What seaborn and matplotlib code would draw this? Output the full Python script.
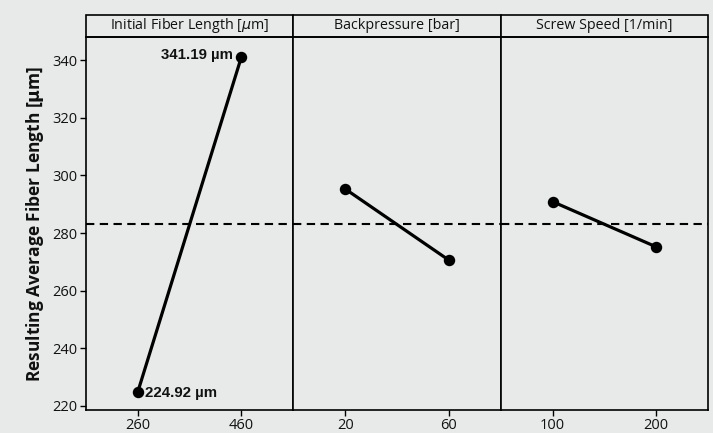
"""Main effects plot: resulting average fiber length per factor level."""

import matplotlib
matplotlib.use("Agg")
import matplotlib.pyplot as plt
from matplotlib.patches import Rectangle
import seaborn as sns

# data
factors = ["Initial Fiber Length [$\\mu$m]", "Backpressure [bar]", "Screw Speed [1/min]"]
levels = [["260", "460"], ["20", "60"], ["100", "200"]]
means = [[224.92, 341.19], [295.3, 270.6], [290.9, 275.2]]
grand_mean = 283.05
yticks = [220, 240, 260, 280, 300, 320, 340]

BG = "#e8eaea"
INK = "#111111"

sns.set_theme(style="white")
plt.rcParams["font.family"] = ["Open Sans", "DejaVu Sans"]
plt.rcParams["mathtext.fontset"] = "dejavusans"

fig, axes = plt.subplots(1, 3, figsize=(7.13, 4.33), dpi=100, sharey=True)
fig.patch.set_facecolor(BG)
fig.subplots_adjust(left=0.1206, right=0.993, top=0.9145, bottom=0.0531, wspace=0)

for i, ax in enumerate(axes):
    ax.set_facecolor(BG)
    sns.pointplot(x=levels[i], y=means[i], ax=ax, color="black",
                  markersize=6.5, linewidth=2.3)
    ax.set_xlim(-0.5, 1.5)
    ax.axhline(grand_mean, color="black", lw=1.5, ls=(0, (4, 2.6)), zorder=1)
    for s in ax.spines.values():
        s.set_color("black")
        s.set_linewidth(1.2)
    ax.tick_params(axis="both", direction="out", length=4, width=1,
                   color="black", labelsize=10.5, labelcolor=INK, pad=2,
                   bottom=True, left=(i == 0))
    ax.set_xlabel("")

    # header strip above each panel
    ax.add_patch(Rectangle((0, 1), 1, 0.059, transform=ax.transAxes,
                           facecolor=BG, edgecolor="black", lw=1.2, clip_on=False))
    ax.text(0.5, 1.03, factors[i], transform=ax.transAxes, ha="center",
            va="center", fontsize=10.3, color=INK)

ax0 = axes[0]
ax0.set_ylim(218.6, 348)
ax0.set_yticks(yticks)
ax0.set_ylabel("Resulting Average Fiber Length [$\\mathbf{\\mu}$m]",
               fontsize=12.5, fontweight="bold", color=INK, labelpad=5)

# value labels for the first factor
ax0.annotate(f"{means[0][1]:.2f} µm", xy=(1, means[0][1]), xytext=(-6, 1),
             textcoords="offset points", ha="right", va="center",
             fontsize=10.8, fontweight="bold", family="Liberation Sans", color=INK)
ax0.annotate(f"{means[0][0]:.2f} µm", xy=(0, means[0][0]), xytext=(5, -1),
             textcoords="offset points", ha="left", va="center",
             fontsize=10.8, fontweight="bold", family="Liberation Sans", color=INK)

plt.savefig("out.png", dpi=100, facecolor=BG)
plt.close()
